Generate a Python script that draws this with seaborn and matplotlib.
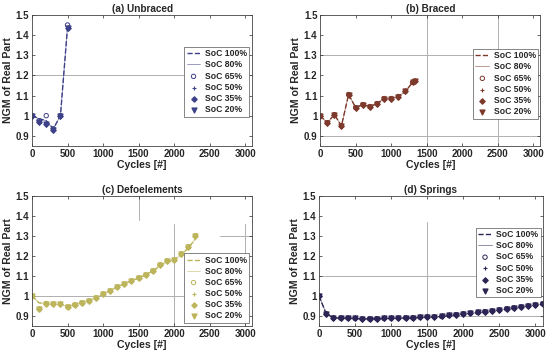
import numpy as np
import pandas as pd
import seaborn as sns
import matplotlib
matplotlib.use("Agg")
import matplotlib.pyplot as plt

sns.set_style("white")
plt.rcParams['font.family'] = ['Liberation Sans', 'DejaVu Sans']
plt.rcParams['font.weight'] = 'bold'

# data
soc_labels = ["SoC 100%", "SoC 80%", "SoC 65%", "SoC 50%", "SoC 35%", "SoC 20%"]

unbraced_x = [0, 100, 200, 300, 400, 500]
unbraced_line = [1.0, 0.985, 0.975, 0.935, 1.0, 1.44]
unbraced_pts = [1.0, 0.97, 0.96, 0.93, 1.0, 1.435]
unbraced_soc65 = [1.0, 0.975, 1.0, 0.935, 1.0, 1.45]

braced_x = [0, 100, 200, 300, 400, 500, 600, 700, 800, 900, 1000, 1100, 1200, 1300, 1330]
braced_y = [1.0, 0.965, 1.005, 0.95, 1.105, 1.04, 1.055, 1.045, 1.06, 1.085, 1.085,
            1.095, 1.12, 1.165, 1.17]

defo_x = [0, 100, 200, 300, 400, 500, 600, 700, 800, 900, 1000, 1100, 1200, 1300, 1400,
          1500, 1600, 1700, 1800, 1900, 2000, 2100, 2200, 2300]
defo_line = [1.0, 0.965, 0.962, 0.96, 0.958, 0.948, 0.955, 0.965, 0.975, 0.99, 1.01, 1.025,
             1.045, 1.06, 1.075, 1.09, 1.105, 1.125, 1.15, 1.17, 1.18, 1.205, 1.24, 1.285]
defo_pts = [1.0, 0.935, 0.962, 0.96, 0.958, 0.945, 0.955, 0.965, 0.975, 0.99, 1.01, 1.025,
            1.045, 1.06, 1.075, 1.09, 1.105, 1.125, 1.155, 1.175, 1.18, 1.21, 1.245, 1.30]

spring_x = [0, 100, 200, 300, 400, 500, 600, 700, 800, 900, 1000, 1100, 1200, 1300, 1400,
            1500, 1600, 1700, 1800, 1900, 2000, 2100, 2200, 2300, 2400, 2500, 2600, 2700,
            2800, 2900, 3000, 3100]
spring_y = [1.0, 0.91, 0.89, 0.889, 0.889, 0.887, 0.885, 0.885, 0.886, 0.887, 0.888, 0.889,
            0.89, 0.89, 0.893, 0.895, 0.895, 0.897, 0.902, 0.906, 0.91, 0.913, 0.917, 0.921,
            0.925, 0.93, 0.935, 0.94, 0.945, 0.95, 0.955, 0.96]

panels = [
    dict(title="(a) Unbraced", x=unbraced_x, line=unbraced_line, pts=unbraced_pts,
         p65=unbraced_soc65, color="#3d4188", pos=[0.058, 0.589, 0.399, 0.369],
         leg=dict(loc="upper right", bbox_to_anchor=(0.995, 0.77))),
    dict(title="(b) Braced", x=braced_x, line=braced_y, pts=braced_y, p65=braced_y,
         color="#7d3a2c", pos=[0.580, 0.589, 0.399, 0.369],
         leg=dict(loc="upper right", bbox_to_anchor=(0.998, 0.755))),
    dict(title="(c) Defoelements", x=defo_x, line=defo_line, pts=defo_pts, p65=defo_pts,
         color="#bdb55c", pos=[0.058, 0.082, 0.399, 0.366],
         leg=dict(loc="lower right", bbox_to_anchor=(0.995, 0.01))),
    dict(title="(d) Springs", x=spring_x, line=spring_y, pts=spring_y, p65=spring_y,
         color="#2c2454", pos=[0.578, 0.082, 0.405, 0.366],
         leg=dict(loc="upper right", bbox_to_anchor=(1.0, 0.77))),
]

# faint grey line fragments visible in the scan
artifacts = [
    [("h", 1.2, 0, 3100)],
    [("h", 1.3, 0, 3100), ("h", 0.9, 0, 3100), ("v", 1500, 0.85, 1.5), ("v", 2500, 0.85, 1.5)],
    [("h", 1.0, 0, 2300), ("v", 1500, 1.38, 1.5), ("v", 2000, 0.85, 1.36),
     ("v", 3000, 0.85, 1.36), ("h", 1.3, 2650, 3100)],
    [("h", 1.1, 0, 3100), ("v", 1500, 0.85, 1.37), ("h", 0.9, 1500, 3100)],
]

fig = plt.figure(figsize=(5.52, 3.55), dpi=100)

for p, art in zip(panels, artifacts):
    ax = fig.add_axes(p["pos"])
    for kind, v, a, b in art:
        if kind == "h":
            ax.plot([a, b], [v, v], color="#b0b0b0", lw=0.7, zorder=0)
        else:
            ax.plot([v, v], [a, b], color="#b0b0b0", lw=0.7, zorder=0)
    c = p["color"]
    sns.lineplot(x=p["x"], y=p["line"], ax=ax, color=c, linestyle="--", lw=1.0,
                 label=soc_labels[0])
    sns.lineplot(x=p["x"], y=p["line"], ax=ax, color=c, linestyle="-", lw=0.6, alpha=0.6,
                 label=soc_labels[1])
    ax.scatter(p["x"], p["p65"], marker="o", s=10, facecolors="none", edgecolors=c,
               linewidths=0.7, label=soc_labels[2])
    ax.scatter(p["x"], p["pts"], marker="+", s=12, color=c, linewidths=0.8,
               label=soc_labels[3])
    ax.scatter(p["x"], p["pts"], marker="D", s=7, color=c, label=soc_labels[4])
    ax.scatter(p["x"], p["pts"], marker="v", s=12, color=c, label=soc_labels[5])

    ax.set_xlim(0, 3100)
    ax.set_ylim(0.85, 1.5)
    ax.set_xticks([0, 500, 1000, 1500, 2000, 2500, 3000])
    ax.set_yticks([0.9, 1.0, 1.1, 1.2, 1.3, 1.4, 1.5])
    ax.set_yticklabels(["0.9", "1", "1.1", "1.2", "1.3", "1.4", "1.5"])
    ax.tick_params(direction="in", length=2, width=0.5, labelsize=7, pad=2,
                   top=True, right=True, bottom=True, left=True)
    for s in ax.spines.values():
        s.set_linewidth(0.6)
        s.set_color("#444444")
    ax.set_title(p["title"], fontsize=7.2, fontweight="bold", pad=2)
    ax.set_xlabel("Cycles [#]", fontsize=7.6, fontweight="bold", labelpad=1)
    ax.set_ylabel("NGM of Real Part", fontsize=7.6, fontweight="bold", labelpad=2)
    leg = ax.legend(fontsize=6.2, frameon=True, fancybox=False, framealpha=1,
                    edgecolor="#555555", handlelength=1.6, handletextpad=0.5,
                    borderpad=0.3, labelspacing=0.25, borderaxespad=0.2, **p["leg"])
    leg.get_frame().set_linewidth(0.5)

fig.savefig("out.png", dpi=100)
